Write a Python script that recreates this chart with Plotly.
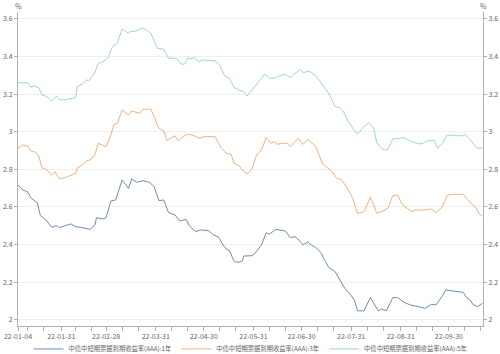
import plotly.graph_objects as go

names = ["中债中短期票据到期收益率(AAA):1年", "中债中短期票据到期收益率(AAA):3年", "中债中短期票据到期收益率(AAA):5年"]
colors = ["#6f8db0", "#f5b07d", "#a3d3d6"]

dates_1y = ["2022-01-04","2022-01-07","2022-01-10","2022-01-12","2022-01-16","2022-01-18","2022-01-22","2022-01-25","2022-01-28","2022-01-30",
            "2022-02-02","2022-02-06","2022-02-09","2022-02-12","2022-02-18","2022-02-21","2022-02-22","2022-02-26","2022-02-28",
            "2022-03-03","2022-03-06","2022-03-10","2022-03-14","2022-03-16","2022-03-19","2022-03-23","2022-03-27","2022-03-30",
            "2022-04-02","2022-04-05","2022-04-08","2022-04-12","2022-04-15","2022-04-19","2022-04-21","2022-04-25","2022-04-28",
            "2022-05-03","2022-05-06","2022-05-09","2022-05-12","2022-05-14","2022-05-16","2022-05-19","2022-05-22","2022-05-24","2022-05-25","2022-05-30",
            "2022-06-01","2022-06-05","2022-06-08","2022-06-10","2022-06-14","2022-06-17","2022-06-20","2022-06-23","2022-06-26","2022-06-29",
            "2022-07-01","2022-07-04","2022-07-06","2022-07-09","2022-07-12","2022-07-15","2022-07-17","2022-07-21","2022-07-24","2022-07-27","2022-07-30",
            "2022-08-02","2022-08-04","2022-08-08","2022-08-12","2022-08-17","2022-08-19","2022-08-22","2022-08-26","2022-08-29",
            "2022-09-02","2022-09-06","2022-09-11","2022-09-15","2022-09-19","2022-09-22","2022-09-26","2022-09-28",
            "2022-10-01","2022-10-09","2022-10-11","2022-10-13","2022-10-15","2022-10-18","2022-10-21"]
vals_1y = [2.717,2.690,2.681,2.649,2.623,2.554,2.526,2.492,2.501,2.490,
           2.499,2.510,2.495,2.492,2.481,2.504,2.543,2.536,2.543,
           2.632,2.637,2.744,2.699,2.749,2.731,2.740,2.731,2.708,
           2.634,2.637,2.570,2.558,2.526,2.534,2.499,2.469,2.478,
           2.474,2.451,2.442,2.398,2.377,2.368,2.309,2.306,2.313,2.339,2.341,
           2.354,2.398,2.463,2.456,2.481,2.478,2.472,2.437,2.442,2.419,
           2.398,2.415,2.398,2.384,2.359,2.310,2.278,2.256,2.212,2.168,2.141,
           2.105,2.048,2.047,2.118,2.047,2.057,2.048,2.118,2.118,
           2.093,2.079,2.070,2.061,2.082,2.079,2.127,2.159,
           2.155,2.146,2.118,2.109,2.082,2.070,2.088]

dates_3y = ["2022-01-04","2022-01-07","2022-01-10","2022-01-12","2022-01-15","2022-01-17","2022-01-19","2022-01-22","2022-01-25","2022-01-27","2022-01-30",
            "2022-02-04","2022-02-09","2022-02-10","2022-02-13","2022-02-16","2022-02-18","2022-02-21","2022-02-23","2022-02-26","2022-02-28",
            "2022-03-03","2022-03-05","2022-03-07","2022-03-10","2022-03-14","2022-03-16","2022-03-21","2022-03-23","2022-03-28",
            "2022-04-02","2022-04-05","2022-04-07","2022-04-10","2022-04-12","2022-04-14","2022-04-17","2022-04-20","2022-04-24","2022-04-27","2022-04-30",
            "2022-05-07","2022-05-11","2022-05-14","2022-05-17","2022-05-19","2022-05-22","2022-05-24","2022-05-27","2022-05-30",
            "2022-06-02","2022-06-05","2022-06-08","2022-06-11","2022-06-13","2022-06-15","2022-06-18","2022-06-21","2022-06-23","2022-06-28",
            "2022-07-01","2022-07-04","2022-07-09","2022-07-13","2022-07-17","2022-07-19","2022-07-22","2022-07-25","2022-07-28",
            "2022-08-01","2022-08-04","2022-08-08","2022-08-12","2022-08-14","2022-08-16","2022-08-19","2022-08-23","2022-08-26","2022-08-29",
            "2022-09-01","2022-09-04","2022-09-07","2022-09-09","2022-09-15","2022-09-19","2022-09-22","2022-09-26","2022-09-29",
            "2022-10-01","2022-10-09","2022-10-13","2022-10-17","2022-10-19","2022-10-21"]
vals_3y = [2.912,2.930,2.924,2.898,2.891,2.871,2.809,2.797,2.770,2.788,2.749,
           2.761,2.779,2.808,2.823,2.846,2.850,2.877,2.939,2.930,2.921,
           2.983,3.040,3.045,3.116,3.089,3.111,3.098,3.120,3.120,
           3.019,3.004,2.953,2.969,2.979,2.951,2.974,2.988,2.979,2.965,2.974,
           2.974,2.912,2.886,2.880,2.832,2.820,2.797,2.776,2.800,
           2.877,2.903,2.969,2.939,2.947,2.933,2.939,2.939,2.921,2.965,
           2.933,2.960,2.921,2.832,2.806,2.788,2.753,2.744,2.708,
           2.646,2.566,2.575,2.652,2.614,2.566,2.575,2.593,2.660,2.664,
           2.611,2.593,2.575,2.584,2.584,2.589,2.570,2.602,2.660,
           2.667,2.667,2.628,2.596,2.561,2.554]

dates_5y = ["2022-01-04","2022-01-10","2022-01-12","2022-01-14","2022-01-17","2022-01-19","2022-01-22","2022-01-25","2022-01-28","2022-01-30",
            "2022-02-04","2022-02-09","2022-02-10","2022-02-13","2022-02-16","2022-02-17","2022-02-21","2022-02-23","2022-02-25",
            "2022-03-01","2022-03-04","2022-03-07","2022-03-10","2022-03-14","2022-03-15","2022-03-19","2022-03-23","2022-03-28",
            "2022-04-01","2022-04-05","2022-04-08","2022-04-13","2022-04-16","2022-04-18","2022-04-20","2022-04-22","2022-04-24","2022-04-27","2022-04-29",
            "2022-05-07","2022-05-10","2022-05-13","2022-05-16","2022-05-19","2022-05-22","2022-05-25","2022-05-27",
            "2022-06-01","2022-06-04","2022-06-07","2022-06-10","2022-06-13","2022-06-16","2022-06-20","2022-06-23","2022-06-26","2022-06-29",
            "2022-07-01","2022-07-05","2022-07-09","2022-07-13","2022-07-17","2022-07-21","2022-07-24","2022-07-26","2022-07-29",
            "2022-08-01","2022-08-04","2022-08-07","2022-08-11","2022-08-14","2022-08-16","2022-08-19","2022-08-21","2022-08-23","2022-08-26","2022-08-30",
            "2022-09-02","2022-09-06","2022-09-11","2022-09-14","2022-09-17","2022-09-21","2022-09-23","2022-09-26","2022-09-29",
            "2022-10-04","2022-10-09","2022-10-10","2022-10-13","2022-10-15","2022-10-18","2022-10-21"]
vals_5y = [3.261,3.261,3.237,3.244,3.235,3.196,3.187,3.164,3.190,3.169,
           3.173,3.181,3.240,3.253,3.276,3.270,3.314,3.364,3.368,
           3.391,3.453,3.471,3.547,3.524,3.533,3.536,3.554,3.524,
           3.444,3.439,3.391,3.390,3.359,3.360,3.394,3.387,3.394,3.373,3.382,
           3.377,3.355,3.297,3.285,3.235,3.222,3.213,3.190,
           3.240,3.276,3.306,3.285,3.285,3.297,3.306,3.288,3.311,3.332,
           3.314,3.323,3.297,3.249,3.205,3.134,3.128,3.111,3.057,
           3.019,2.987,3.019,3.050,3.019,2.942,2.912,2.903,2.907,2.962,2.965,
           2.969,2.951,2.935,2.939,2.953,2.955,2.912,2.939,2.983,
           2.979,2.979,2.987,2.962,2.939,2.912,2.914]

x_tick_vals = ["2022-01-04","2022-01-31","2022-02-28","2022-03-31","2022-04-30","2022-05-31","2022-06-30","2022-07-31","2022-08-31","2022-09-30"]
x_tick_text = ["22-01-04","22-01-31","22-02-28","22-03-31","22-04-30","22-05-31","22-06-30","22-07-31","22-08-31","22-09-30"]
x_minor_vals = ["2022-01-10","2022-01-20","2022-02-09","2022-02-19","2022-03-10","2022-03-20","2022-04-10","2022-04-20",
                "2022-05-10","2022-05-20","2022-06-10","2022-06-20","2022-07-10","2022-07-20","2022-08-10","2022-08-20",
                "2022-09-10","2022-09-20","2022-10-10","2022-10-20"]
y_ticks = [2.0, 2.2, 2.4, 2.6, 2.8, 3.0, 3.2, 3.4, 3.6]
y_tick_text = ["2", "2.2", "2.4", "2.6", "2.8", "3", "3.2", "3.4", "3.6"]
y_range = [1.967, 3.637]
x_range = ["2022-01-04", "2022-10-21 08:00"]

font_family = "Noto Sans CJK SC, Noto Sans, sans-serif"
axis_color = "#b0b0b0"
text_color = "#666666"

fig = go.Figure()
for d, v, n, c in [(dates_1y, vals_1y, names[0], colors[0]),
                   (dates_3y, vals_3y, names[1], colors[1]),
                   (dates_5y, vals_5y, names[2], colors[2])]:
    fig.add_trace(go.Scatter(x=d, y=v, name=n, mode="lines",
                             line=dict(color=c, width=1)))

fig.update_layout(
    width=500, height=354,
    margin=dict(l=18, r=17, t=12, b=28, autoexpand=False),
    paper_bgcolor="white", plot_bgcolor="white",
    font=dict(family=font_family, size=7, color=text_color),
    showlegend=True,
    legend=dict(orientation="h", x=0.5, xanchor="center", y=-0.073, yanchor="middle",
                font=dict(size=6.3, color=text_color), itemwidth=30,
                bgcolor="rgba(0,0,0,0)", tracegroupgap=0, borderwidth=0),
    xaxis=dict(type="date", range=x_range, tickmode="array", tickvals=x_tick_vals, ticktext=x_tick_text,
               showgrid=False, showline=True, linecolor=axis_color, linewidth=1,
               ticks="outside", ticklen=4, tickcolor=axis_color,
               minor=dict(tickmode="array", tickvals=x_minor_vals, ticks="outside", ticklen=4, tickcolor=axis_color, showgrid=False),
               tickfont=dict(size=7, color=text_color), zeroline=False),
    yaxis=dict(range=y_range, tickmode="array", tickvals=y_ticks, ticktext=y_tick_text,
               showgrid=True, gridcolor="#efefef", gridwidth=1,
               showline=True, linecolor=axis_color, linewidth=1,
               ticks="outside", ticklen=3, tickcolor=axis_color,
               tickfont=dict(size=7, color=text_color), zeroline=False),
    yaxis2=dict(range=y_range, tickmode="array", tickvals=y_ticks, ticktext=y_tick_text,
                overlaying="y", side="right", showgrid=False,
                showline=True, linecolor=axis_color, linewidth=1,
                ticks="outside", ticklen=3, tickcolor=axis_color,
                tickfont=dict(size=7, color=text_color), zeroline=False),
    annotations=[
        dict(text="%", xref="paper", yref="paper", x=0, y=1, yshift=6, xanchor="center", yanchor="middle",
             showarrow=False, font=dict(size=7, color=text_color)),
        dict(text="%", xref="paper", yref="paper", x=1, y=1, yshift=6, xanchor="center", yanchor="middle",
             showarrow=False, font=dict(size=7, color=text_color)),
    ],
)
# invisible helper trace to anchor right axis
fig.add_trace(go.Scatter(x=[x_tick_vals[0]], y=[y_ticks[0]], yaxis="y2", mode="markers",
                         marker=dict(opacity=0), showlegend=False, hoverinfo="skip"))

fig.write_html("out.html")
